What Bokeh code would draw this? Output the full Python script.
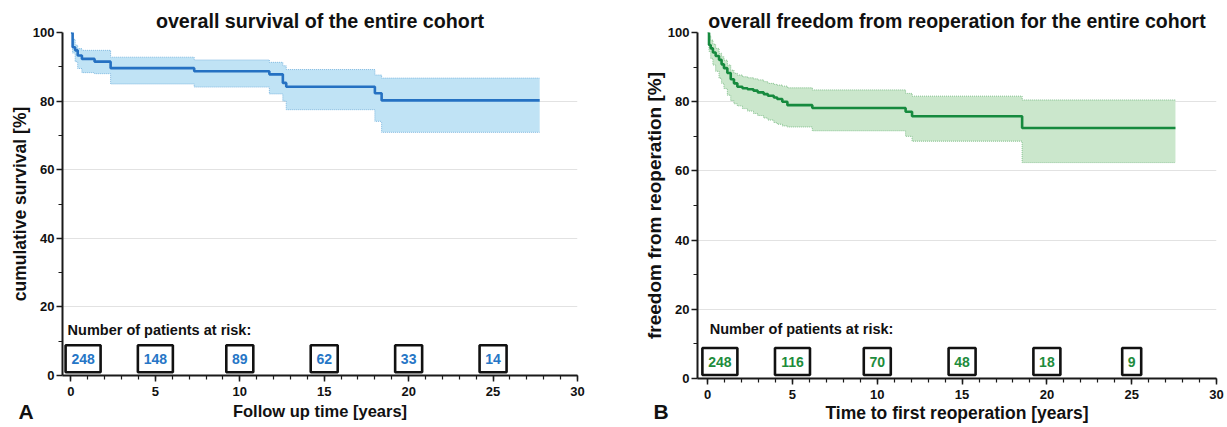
from bokeh.plotting import figure
from bokeh.layouts import row
from bokeh.models import Label, Range1d, FixedTicker, ColumnDataSource, Title
from bokeh.core.properties import value
from bokeh.embed import file_html
from bokeh.resources import INLINE

FONT = "Liberation Sans"

# ---------------- data ----------------
# Panel A: overall survival
a_time = [0, 0.1, 0.25, 0.4, 0.65, 1.4, 2.35, 7.3, 11.75, 12.55, 12.75, 18.0, 18.4, 27.76]
a_surv = [100, 95.7, 94.8, 93.3, 92.3, 91.5, 89.6, 88.7, 87.8, 85.3, 84.2, 82.3, 80.2, 80.2]
a_upper = [100, 98.0, 96.3, 95.3, 94.8, 94.8, 92.8, 92.0, 91.3, 90.3, 89.2, 87.6, 86.7, 86.7]
a_lower = [100, 94.0, 91.5, 89.5, 88.3, 88.0, 85.0, 84.1, 82.1, 80.0, 77.5, 74.1, 70.9, 70.9]

# Panel B: freedom from reoperation
b_time = [0, 0.08, 0.18, 0.31, 0.47, 0.67, 0.82, 0.96, 1.16, 1.36, 1.55, 1.75, 2.05, 2.35,
          2.7, 2.95, 3.3, 3.55, 3.9, 4.1, 4.4, 4.7, 6.17, 11.67, 12.05, 18.54, 27.58]
b_surv = [100, 96.4, 95.4, 94.2, 93.2, 92.1, 90.8, 89.7, 88.3, 86.5, 85.3, 84.3, 83.9, 83.6,
          83.2, 82.7, 82.2, 81.7, 81.2, 80.8, 80.0, 79.0, 78.2, 77.1, 75.8, 72.4, 72.4]
b_upper = [100, 99.0, 97.8, 96.6, 95.4, 94.0, 93.0, 92.0, 90.6, 89.1, 88.2, 87.7, 87.2, 86.9,
           86.6, 86.3, 85.8, 85.3, 85.0, 84.8, 84.5, 84.0, 83.4, 82.4, 81.6, 80.5, 80.5]
b_lower = [100, 94.5, 92.5, 90.6, 88.8, 86.8, 85.3, 83.8, 81.9, 80.3, 79.4, 78.8, 78.0, 77.3,
           76.6, 76.0, 75.3, 74.7, 74.0, 73.5, 73.0, 72.7, 71.6, 70.0, 68.6, 62.4, 62.4]

risk_times = [0, 5, 10, 15, 20, 25]
a_risk = [248, 148, 89, 62, 33, 14]
b_risk = [248, 116, 70, 48, 18, 9]

x_ticks = [0, 5, 10, 15, 20, 25, 30]
y_ticks = [0, 20, 40, 60, 80, 100]


def make_panel(title, xlabel, ylabel, t, s, up, lo, risk, line_col, band_col, edge_col,
               num_col, letter, fw, fh, bl, br, bb, x0, title_fs, xl_fs, yl_fs,
               risk_label_x, risk_label_y, xl_standoff, letter_standoff):
    p = figure(frame_width=fw, frame_height=fh, min_border_left=bl, min_border_right=br,
               min_border_top=32, min_border_bottom=bb,
               x_range=Range1d(x0, 30), y_range=Range1d(0, 100),
               output_backend="svg", toolbar_location=None)
    p.outline_line_color = None
    p.background_fill_color = "white"
    p.border_fill_color = "white"

    # title
    p.title.text = title
    p.title.align = "center"
    p.title.text_font = FONT
    p.title.text_font_style = "bold"
    p.title.text_font_size = title_fs
    p.title.text_color = "#111111"
    p.title.standoff = 2

    # grids
    p.xgrid.grid_line_color = None
    p.ygrid.grid_line_color = "#e2e2e2"
    p.ygrid.grid_line_width = 1

    # axes
    p.xaxis.ticker = FixedTicker(ticks=x_ticks, minor_ticks=list(range(0, 31)))
    p.yaxis.ticker = FixedTicker(ticks=y_ticks, minor_ticks=[10, 30, 50, 70, 90])
    for ax in (p.xaxis[0], p.yaxis[0]):
        ax.axis_line_color = "#1a1a1a"
        ax.axis_line_width = 2
        ax.major_tick_line_color = "#1a1a1a"
        ax.major_tick_line_width = 1.5
        ax.minor_tick_line_color = "#1a1a1a"
        ax.minor_tick_line_width = 1.2
        ax.major_tick_in = 0
        ax.major_tick_out = 6
        ax.minor_tick_in = 0
        ax.minor_tick_out = 4
        ax.major_label_text_font = FONT
        ax.major_label_text_font_style = "bold"
        ax.major_label_text_font_size = "13px"
        ax.major_label_text_color = "#111111"
        ax.axis_label_text_font = FONT
        ax.axis_label_text_font_style = "bold"
        ax.axis_label_text_color = "#111111"
    p.xaxis.major_label_standoff = 5
    p.xaxis.axis_label_standoff = xl_standoff
    p.yaxis.major_label_standoff = 2
    p.yaxis.axis_label_standoff = 0
    p.xaxis.axis_label = xlabel
    p.yaxis.axis_label = ylabel
    p.xaxis.axis_label_text_font_size = xl_fs
    p.yaxis.axis_label_text_font_size = yl_fs

    src = ColumnDataSource(dict(t=t, s=s, up=up, lo=lo))
    p.varea_step(x="t", y1="lo", y2="up", step_mode="after", source=src,
                 fill_color=band_col, fill_alpha=1.0)
    p.step(x="t", y="up", mode="after", source=src, line_color=edge_col,
           line_width=1, line_dash="1 1")
    p.step(x="t", y="lo", mode="after", source=src, line_color=edge_col,
           line_width=1, line_dash="1 1")
    p.step(x="t", y="s", mode="after", source=src, line_color=line_col, line_width=2.6)

    # number at risk table
    box_x = [max(rt, 0.72) for rt in risk_times]
    labels = [str(r) for r in risk]
    widths = [8 * len(l) + 11 for l in labels]
    rsrc = ColumnDataSource(dict(x=box_x, y=[4.9] * len(box_x), w=widths, txt=labels))
    p.rect(x="x", y="y", width="w", height=27, width_units="screen", height_units="screen",
           source=rsrc, fill_color="white", line_color="#111111", line_width=2.6)
    p.text(x="x", y="y", text="txt", source=rsrc, text_align="center",
           text_baseline="middle", text_font=value(FONT), text_font_style="bold",
           text_font_size="14px", text_color=num_col)
    p.add_layout(Label(x=risk_label_x, y=risk_label_y, text="Number of patients at risk:",
                       text_align="left", text_baseline="middle", text_font=FONT,
                       text_font_style="bold", text_font_size="14.5px",
                       text_color="#111111"))

    # panel letter, placed under the plot, shifted left of the frame
    p.add_layout(Title(text=letter, align="left", offset=-44, vertical_align="top",
                       standoff=letter_standoff, text_font=FONT, text_font_style="bold",
                       text_font_size="21px", text_color="#111111"), "below")
    return p


pA = make_panel("overall survival of the entire cohort", "Follow up time [years]",
                "cumulative survival [%]", a_time, a_surv, a_upper, a_lower, a_risk,
                "#2571c2", "#c0e3f5", "#7fb8e0", "#2676c6", "A",
                515, 343, 62, 33, 50, -0.5, "19.7px", "16.5px", "17.5px", -0.2, 13.4, 3, -46)
pB = make_panel("overall freedom from reoperation for the entire cohort",
                "Time to first reoperation [years]", "freedom from reoperation [%]",
                b_time, b_surv, b_upper, b_lower, b_risk,
                "#168a3e", "#cbe7cc", "#82bf8c", "#1e8c3c", "B",
                519, 346, 87, 10, 47, -0.6, "19.5px", "17.5px", "19px", 0.12, 14.2, 1, -52)

layout = row(pA, pB)
open("out.html", "w").write(file_html(layout, INLINE))
